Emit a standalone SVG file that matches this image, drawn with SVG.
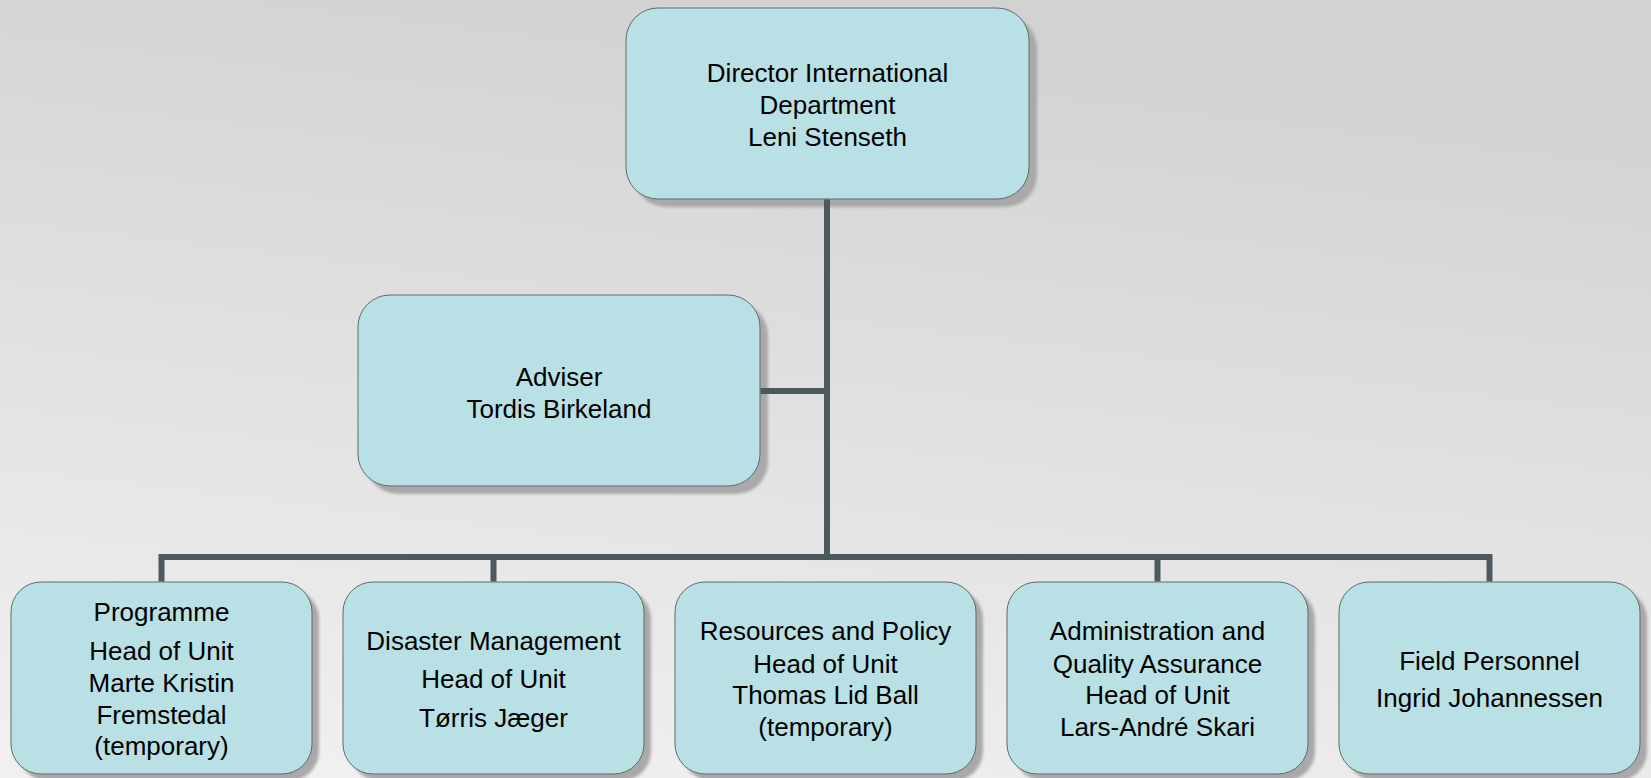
<svg xmlns="http://www.w3.org/2000/svg" width="1651" height="778" viewBox="0 0 1651 778">
<defs>
<linearGradient id="bg" x1="0.2" y1="1" x2="0.45" y2="0">
<stop offset="0" stop-color="#f0f0f0"/>
<stop offset="0.5" stop-color="#e1e1e1"/>
<stop offset="1" stop-color="#d2d2d2"/>
</linearGradient>
<filter id="blur" x="-5%" y="-5%" width="110%" height="110%">
<feGaussianBlur stdDeviation="1.5"/>
</filter>
</defs>
<style>
.box{fill:#b9e0e4;stroke:#5f6b6c;stroke-width:1}
.sh{fill:#a9a9a9;filter:url(#blur)}
.lbl{font-family:"Liberation Sans",Arial,sans-serif;font-size:26px;fill:#000;text-anchor:middle}
.con{fill:none;stroke:#4b5a5c;stroke-width:6;stroke-linejoin:miter}
</style>
<rect x="0" y="0" width="1651" height="778" fill="url(#bg)"/>

<g id="director">
<rect class="sh" x="634" y="16" width="403" height="191" rx="32"/>
<rect class="box" x="626" y="8" width="403" height="191" rx="32"/>
<text class="lbl" x="827.5" y="82">Director International</text>
<text class="lbl" x="827.5" y="114">Department</text>
<text class="lbl" x="827.5" y="146">Leni Stenseth</text>
</g>

<g id="adviser">
<rect class="sh" x="366" y="303" width="402" height="191" rx="32"/>
<rect class="box" x="358" y="295" width="402" height="191" rx="32"/>
<text class="lbl" x="559" y="386">Adviser</text>
<text class="lbl" x="559" y="418">Tordis Birkeland</text>
</g>

<g id="programme">
<rect class="sh" x="18" y="589" width="301" height="192" rx="30"/>
<rect class="box" x="11" y="582" width="301" height="192" rx="30"/>
<text class="lbl" x="161.5" y="621">Programme</text>
<text class="lbl" x="161.5" y="660">Head of Unit</text>
<text class="lbl" x="161.5" y="692">Marte Kristin</text>
<text class="lbl" x="161.5" y="724">Fremstedal</text>
<text class="lbl" x="161.5" y="755">(temporary)</text>
</g>

<g id="disaster">
<rect class="sh" x="350" y="589" width="301" height="192" rx="30"/>
<rect class="box" x="343" y="582" width="301" height="192" rx="30"/>
<text class="lbl" x="493.5" y="650">Disaster Management</text>
<text class="lbl" x="493.5" y="688">Head of Unit</text>
<text class="lbl" x="493.5" y="727">Tørris Jæger</text>
</g>

<g id="resources">
<rect class="sh" x="682" y="589" width="301" height="192" rx="30"/>
<rect class="box" x="675" y="582" width="301" height="192" rx="30"/>
<text class="lbl" x="825.5" y="640">Resources and Policy</text>
<text class="lbl" x="825.5" y="673">Head of Unit</text>
<text class="lbl" x="825.5" y="704">Thomas Lid Ball</text>
<text class="lbl" x="825.5" y="736">(temporary)</text>
</g>

<g id="administration">
<rect class="sh" x="1014" y="589" width="301" height="192" rx="30"/>
<rect class="box" x="1007" y="582" width="301" height="192" rx="30"/>
<text class="lbl" x="1157.5" y="640">Administration and</text>
<text class="lbl" x="1157.5" y="673">Quality Assurance</text>
<text class="lbl" x="1157.5" y="704">Head of Unit</text>
<text class="lbl" x="1157.5" y="736">Lars-André Skari</text>
</g>

<g id="field">
<rect class="sh" x="1346" y="589" width="301" height="192" rx="30"/>
<rect class="box" x="1339" y="582" width="301" height="192" rx="30"/>
<text class="lbl" x="1489.5" y="670">Field Personnel</text>
<text class="lbl" x="1489.5" y="707">Ingrid Johannessen</text>
</g>

<g id="connectors">
<path class="con" d="M827,199.5 V557"/>
<path class="con" d="M760.5,391 H827"/>
<path class="con" d="M161.5,581.5 V557 H1489.5 V581.5"/>
<path class="con" d="M493.5,557 V581.5"/>
<path class="con" d="M1157.5,557 V581.5"/>
</g>
</svg>
